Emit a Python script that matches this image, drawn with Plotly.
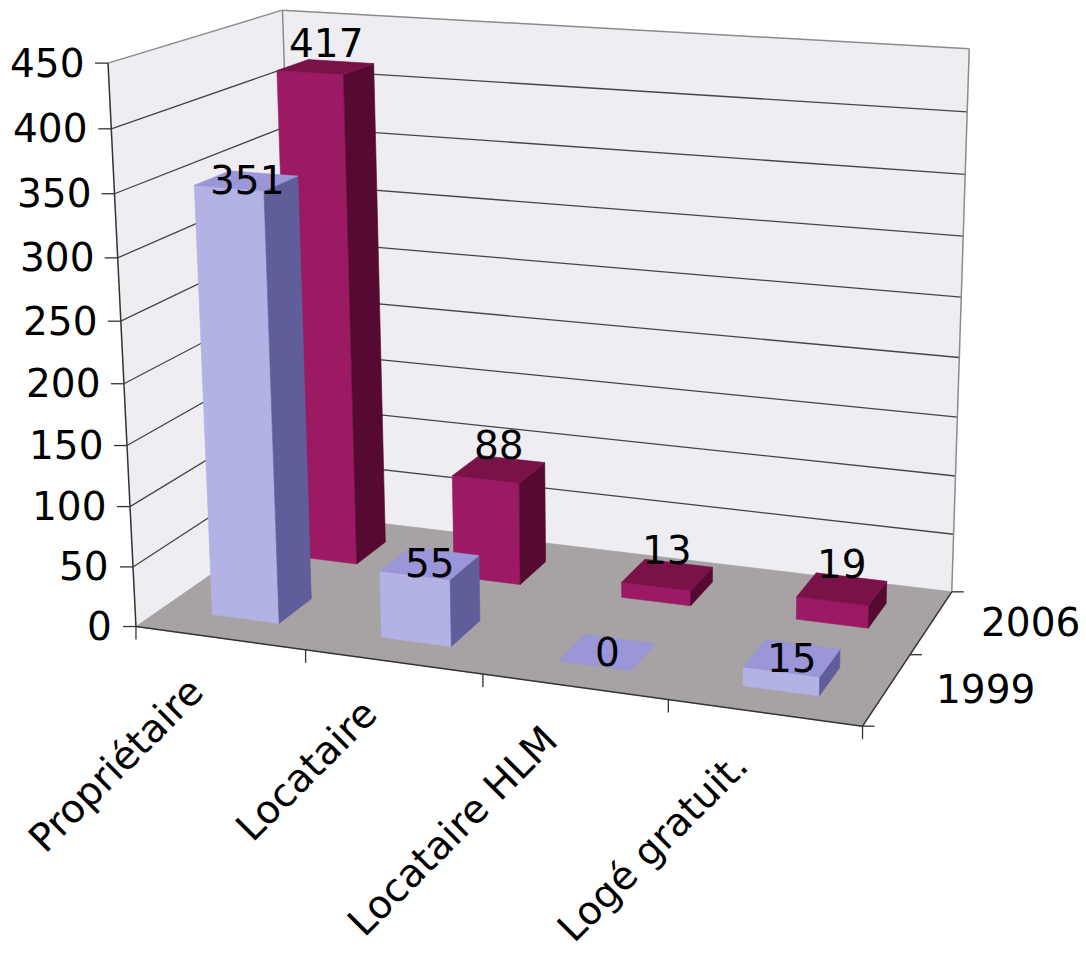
import numpy as np
import plotly.graph_objects as go

# ---------------- data ----------------
categories = ["Propriétaire", "Locataire", "Locataire HLM", "Logé gratuit."]
series_names = ["1999", "2006"]
values_1999 = [351, 55, 0, 15]
values_2006 = [417, 88, 13, 19]
y_ticks = [0, 50, 100, 150, 200, 250, 300, 350, 400, 450]
Y_MAX = 450

# ---------------- style ----------------
FONT = "DejaVu Sans"
FS = 39
WALL = "#EEEDF2"
FLOOR = "#A7A3A5"
FACE = {
    "1999": dict(front="#B3B2E5", side="#5F5E9A", top="#9A96D8"),
    "2006": dict(front="#9C1A63", side="#560A31", top="#7A1149"),
}
LABEL_DY = {"1999": 0, "2006": -24}
BAR_LO, BAR_HI = 0.3, 0.7     # bar extent inside its category cell / depth row

# ---------------- perspective calibration (world: category, value, depth) -> page px ----------------
CAL = [
    ((0, 0, 0), (134, 627)), ((4, 0, 0), (863, 725)), ((4, 0, 2), (951, 592)), ((0, 0, 2), (304, 514)),
    ((0, 450, 0), (110, 65)), ((0, 450, 2), (278, 10)), ((4, 450, 2), (970, 48)),
    ((1, 0, 0), (305, 650)), ((2, 0, 0), (484, 675)), ((3, 0, 0), (669, 700)), ((4, 0, 1), (909, 656)),
    ((0, 50, 0), (131.4, 567)), ((0, 100, 0), (128.8, 505)), ((0, 150, 0), (126.2, 445)), ((0, 200, 0), (123.6, 384)),
    ((0, 250, 0), (120.9, 320)), ((0, 300, 0), (118.2, 257)), ((0, 350, 0), (115.5, 193)), ((0, 400, 0), (112.8, 130)),
    ((4, 50, 2), (953.1, 533)), ((4, 100, 2), (955.1, 475)), ((4, 150, 2), (957.1, 418)), ((4, 200, 2), (959.1, 359)),
    ((4, 250, 2), (961.3, 297)), ((4, 300, 2), (963.4, 236)), ((4, 350, 2), (965.6, 174)), ((4, 400, 2), (967.8, 112)),
]


def fit_projection(cal):
    ws = np.array([4.0, 450.0, 2.0])
    rows = []
    for (w, p) in cal:
        X, Y, Z = np.array(w, float) / ws
        u, v = p[0] / 1000.0, p[1] / 1000.0
        rows.append([X, Y, Z, 1, 0, 0, 0, 0, -u * X, -u * Y, -u * Z, -u])
        rows.append([0, 0, 0, 0, X, Y, Z, 1, -v * X, -v * Y, -v * Z, -v])
    _, _, vt = np.linalg.svd(np.array(rows))
    M = vt[-1].reshape(3, 4)

    def proj(X, Y, Z):
        h = M @ np.array([X / ws[0], Y / ws[1], Z / ws[2], 1.0])
        return (1000 * h[0] / h[2], 1000 * h[1] / h[2])
    return proj


P = fit_projection(CAL)
NC = len(categories)
ND = len(series_names)

fig = go.Figure()


def poly(pts, color, lw=0.8, lc=None):
    xs = [p[0] for p in pts] + [pts[0][0]]
    ys = [p[1] for p in pts] + [pts[0][1]]
    fig.add_trace(go.Scatter(x=xs, y=ys, mode="lines", fill="toself", fillcolor=color,
                             line=dict(color=lc or color, width=lw), hoverinfo="skip", showlegend=False))


def segs(pairs, color, width):
    xs, ys = [], []
    for a, b in pairs:
        xs += [a[0], b[0], None]
        ys += [a[1], b[1], None]
    fig.add_trace(go.Scatter(x=xs, y=ys, mode="lines", line=dict(color=color, width=width),
                             hoverinfo="skip", showlegend=False))


# walls and floor
poly([P(0, Y_MAX, ND), P(NC, Y_MAX, ND), P(NC, 0, ND), P(0, 0, ND)], WALL)
poly([P(0, Y_MAX, 0), P(0, Y_MAX, ND), P(0, 0, ND), P(0, 0, 0)], WALL)
poly([P(0, 0, 0), P(NC, 0, 0), P(NC, 0, ND), P(0, 0, ND)], FLOOR)

# gridlines
grid = []
for t in y_ticks[1:-1]:
    grid.append((P(0, t, 0), P(0, t, ND)))
    grid.append((P(0, t, ND), P(NC, t, ND)))
segs(grid, "#454545", 1.3)

# wall borders
segs([(P(0, Y_MAX, 0), P(0, Y_MAX, ND)), (P(0, Y_MAX, ND), P(NC, Y_MAX, ND)),
      (P(NC, Y_MAX, ND), P(NC, 0, ND)), (P(0, Y_MAX, ND), P(0, 0, ND))], "#8c8c8c", 1.5)

# axis lines
segs([(P(0, 0, 0), P(0, Y_MAX, 0)), (P(0, 0, 0), P(NC, 0, 0)), (P(NC, 0, 0), P(NC, 0, ND))], "#333333", 1.5)

# ticks
ticks = []
for t in y_ticks:
    x, y = P(0, t, 0)
    ticks.append(((x - 13, y), (x, y)))
for k in range(NC + 1):
    x, y = P(k, 0, 0)
    ticks.append(((x, y), (x, y + 13)))
for d in range(ND + 1):
    x, y = P(NC, 0, d)
    ticks.append(((x, y), (x + 12, y)))
segs(ticks, "#333333", 1.3)

# bars (back row first, left to right)
all_vals = {"1999": values_1999, "2006": values_2006}
labels = []
for d in reversed(range(ND)):
    name = series_names[d]
    vals = all_vals[name]
    for k, v in enumerate(vals):
        x0, x1 = k + BAR_LO, k + BAR_HI
        z0, z1 = d + BAR_LO, d + BAR_HI
        c = FACE[name]
        if v > 0:
            poly([P(x0, 0, z0), P(x1, 0, z0), P(x1, v, z0), P(x0, v, z0)], c["front"], 0.6)
            poly([P(x1, 0, z0), P(x1, 0, z1), P(x1, v, z1), P(x1, v, z0)], c["side"], 0.6)
        poly([P(x0, v, z0), P(x1, v, z0), P(x1, v, z1), P(x0, v, z1)], c["top"], 0.6)
        cx, cy = P((x0 + x1) / 2, v, (z0 + z1) / 2)
        labels.append((cx, cy + LABEL_DY[name], str(v)))

ann = []
for cx, cy, txt in labels:
    ann.append(dict(x=cx, y=cy, text=txt, showarrow=False, xanchor="center", yanchor="middle",
                    font=dict(family=FONT, size=FS, color="black")))
for t in y_ticks:
    x, y = P(0, t, 0)
    ann.append(dict(x=x - 22, y=y, text=str(t), showarrow=False, xanchor="right", yanchor="middle",
                    font=dict(family=FONT, size=FS, color="black")))
for k, cat in enumerate(categories):
    x, y = P(k + 0.5, 0, 0)
    ann.append(dict(x=x - 5, y=y + 27, text=cat, showarrow=False, xanchor="right", yanchor="top",
                    textangle=-45, font=dict(family=FONT, size=FS, color="black")))
for d, name in enumerate(series_names):
    x, y = P(NC, 0, d + 0.5)
    ann.append(dict(x=x + 47, y=y, text=name, showarrow=False, xanchor="left", yanchor="middle",
                    font=dict(family=FONT, size=FS, color="black")))

fig.update_layout(
    width=1086, height=953, margin=dict(l=0, r=0, t=0, b=0),
    paper_bgcolor="white", plot_bgcolor="white", showlegend=False,
    xaxis=dict(range=[0, 1086], visible=False, fixedrange=True),
    yaxis=dict(range=[953, 0], visible=False, fixedrange=True),
    annotations=ann,
)
fig.write_html("out.html")
